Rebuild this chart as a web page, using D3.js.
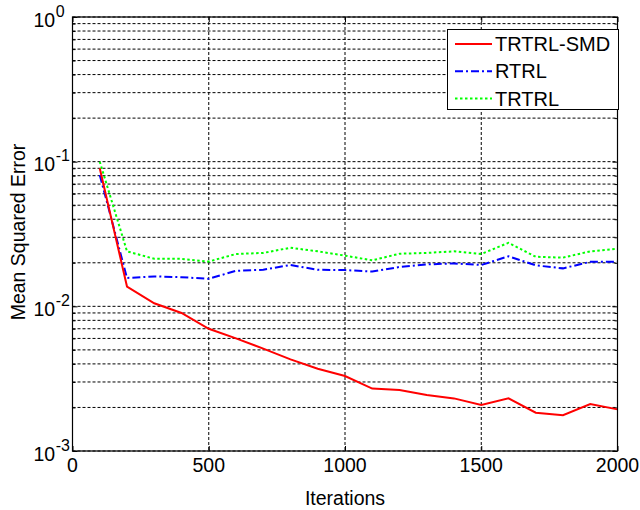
<html>
<head>
<meta charset="utf-8">
<style>
  body { margin: 0; background: #fff; }
  svg { display: block; font-family: "Liberation Sans", Arial, sans-serif; }
</style>
</head>
<body>
<script src="https://cdn.jsdelivr.net/npm/d3@7"></script>
<script>
// DATA - iterations and the three error curves
var iterations = [100, 200, 300, 400, 500, 600, 700, 800, 900, 1000,
                  1100, 1200, 1300, 1400, 1500, 1600, 1700, 1800, 1900, 2000];
var trtrlSmd = [0.090, 0.0137, 0.0105, 0.0090, 0.0070, 0.0060, 0.0051, 0.0043, 0.0037, 0.0033,
                0.0027, 0.00264, 0.00244, 0.00231, 0.00208, 0.00231, 0.00184, 0.00177, 0.00211, 0.00194];
var rtrl = [0.081, 0.0157, 0.0161, 0.0159, 0.0155, 0.0176, 0.0179, 0.0193, 0.0179, 0.0178,
            0.0174, 0.0187, 0.0195, 0.0198, 0.0193, 0.0222, 0.0192, 0.0183, 0.0203, 0.0203];
var trtrl = [0.100, 0.0240, 0.0213, 0.0213, 0.0204, 0.0230, 0.0234, 0.0254, 0.0240, 0.0224,
             0.0208, 0.0231, 0.0234, 0.0240, 0.0230, 0.0275, 0.0220, 0.0217, 0.0240, 0.0250];
var seriesNames = ["TRTRL-SMD", "RTRL", "TRTRL"];

// DATA - ticks
var xTicks = [0, 500, 1000, 1500, 2000];
var yDecades = [-3, -2, -1, 0];

var W = 640, H = 510;
var pLeft = 72.5, pRight = 617.5, pTop = 17, pBottom = 451;

var svg = d3.select("body").append("svg").attr("width", W).attr("height", H);

var x = d3.scaleLinear().domain([0, 2000]).range([pLeft, pRight]);
var y = d3.scaleLog().domain([1e-3, 1]).range([pBottom, pTop]);

// minor values 2..9 x each decade
var yMinor = [];
yDecades.slice(0, 3).forEach(function(e) {
  for (var k = 2; k <= 9; k++) yMinor.push(k * Math.pow(10, e));
});
var yMajor = yDecades.map(function(e) { return Math.pow(10, e); });

// grid
var grid = svg.append("g").attr("stroke", "#000").attr("stroke-width", 1)
  .attr("stroke-dasharray", "3,2").attr("fill", "none");
grid.selectAll("line.gy").data(yMajor.concat(yMinor)).enter().append("line")
  .attr("class", "gy")
  .attr("x1", pLeft).attr("x2", pRight)
  .attr("y1", function(d) { return y(d); }).attr("y2", function(d) { return y(d); });
grid.selectAll("line.gx").data(xTicks.slice(1, 4)).enter().append("line")
  .attr("class", "gx")
  .attr("x1", function(d) { return x(d); }).attr("x2", function(d) { return x(d); })
  .attr("y1", pTop).attr("y2", pBottom);

// axes (ticks inside)
function noDomain(g) { g.select(".domain").remove(); }
svg.append("g").attr("transform", "translate(0," + pBottom + ")")
  .call(d3.axisBottom(x).tickValues(xTicks).tickSize(-5).tickFormat("")).call(noDomain);
svg.append("g").attr("transform", "translate(0," + pTop + ")")
  .call(d3.axisTop(x).tickValues(xTicks).tickSize(-5).tickFormat("")).call(noDomain);
svg.append("g").attr("transform", "translate(" + pLeft + ",0)")
  .call(d3.axisLeft(y).tickValues(yMajor).tickSize(-5).tickFormat("")).call(noDomain);
svg.append("g").attr("transform", "translate(" + pLeft + ",0)")
  .call(d3.axisLeft(y).tickValues(yMinor).tickSize(-3).tickFormat("")).call(noDomain);
svg.append("g").attr("transform", "translate(" + pRight + ",0)")
  .call(d3.axisRight(y).tickValues(yMajor).tickSize(-5).tickFormat("")).call(noDomain);
svg.append("g").attr("transform", "translate(" + pRight + ",0)")
  .call(d3.axisRight(y).tickValues(yMinor).tickSize(-3).tickFormat("")).call(noDomain);

// series
var series = [
  { name: seriesNames[0], values: trtrlSmd, color: "#ff0000", width: 2, dash: null },
  { name: seriesNames[1], values: rtrl, color: "#0000ff", width: 2, dash: "8,3,2,3" },
  { name: seriesNames[2], values: trtrl, color: "#00ff00", width: 2, dash: "2.5,2.5" }
];
var line = d3.line()
  .x(function(d, i) { return x(iterations[i]); })
  .y(function(d) { return y(d); });

svg.selectAll("path.series").data(series.slice().reverse()).enter().append("path")
  .attr("class", "series")
  .attr("d", function(s) { return line(s.values); })
  .attr("fill", "none")
  .attr("stroke", function(s) { return s.color; })
  .attr("stroke-width", function(s) { return s.width; })
  .attr("stroke-dasharray", function(s) { return s.dash; });

// frame
svg.append("rect").attr("x", pLeft).attr("y", pTop)
  .attr("width", pRight - pLeft).attr("height", pBottom - pTop)
  .attr("fill", "none").attr("stroke", "#000").attr("stroke-width", 1.2);

// tick labels
svg.selectAll("text.xt").data(xTicks).enter().append("text")
  .attr("class", "xt")
  .attr("x", function(d) { return x(d); }).attr("y", 472)
  .attr("text-anchor", "middle").attr("font-size", 19.5).text(function(d) { return d; });

var yl = svg.selectAll("text.yt").data(yDecades).enter().append("text")
  .attr("class", "yt")
  .attr("x", 33.5).attr("y", function(d) { return y(Math.pow(10, d)) + 9.5; })
  .attr("font-size", 19.5);
yl.append("tspan").text("10");
yl.append("tspan").attr("dx", 0.5).attr("dy", -10).attr("font-size", 16).text(function(d) { return d; });

svg.append("text").attr("x", (pLeft + pRight) / 2).attr("y", 505)
  .attr("text-anchor", "middle").attr("font-size", 19.5).text("Iterations");
svg.append("text").attr("transform", "translate(25,232) rotate(-90)")
  .attr("text-anchor", "middle").attr("font-size", 19.5).text("Mean Squared Error");

// legend
var lg = svg.append("g");
lg.append("rect").attr("x", 447.5).attr("y", 29.5).attr("width", 171).attr("height", 80)
  .attr("fill", "#fff").attr("stroke", "#000").attr("stroke-width", 1);
var rows = lg.selectAll("g.row").data(series).enter().append("g")
  .attr("class", "row")
  .attr("transform", function(s, i) { return "translate(0," + (44 + i * 27.2) + ")"; });
rows.append("line").attr("x1", 455).attr("x2", 492).attr("y1", 0).attr("y2", 0)
  .attr("stroke", function(s) { return s.color; })
  .attr("stroke-width", function(s) { return s.width; })
  .attr("stroke-dasharray", function(s) { return s.dash; });
rows.append("text").attr("x", 495).attr("y", 7.2).attr("font-size", 20)
  .text(function(s) { return s.name; });
</script>
</body>
</html>
